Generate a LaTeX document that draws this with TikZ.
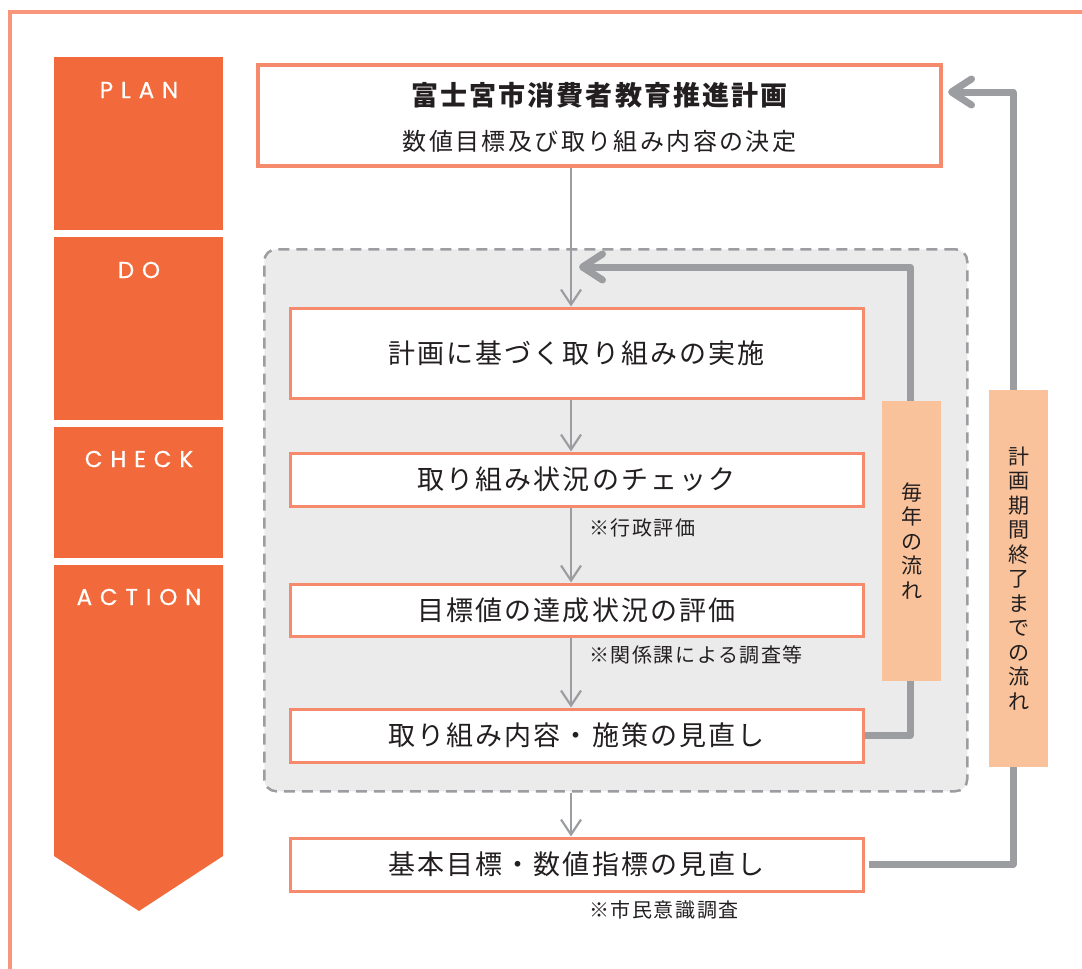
\documentclass[tikz,border=0pt]{standalone}
\usepackage{fontspec}
\newfontfamily\jp{Noto Sans CJK JP}
\newfontfamily\jpsp[LetterSpace=8]{Noto Sans CJK JP}
\newfontfamily\lat[LetterSpace=34,FakeBold=0.6]{Poppins}
\usetikzlibrary{arrows.meta}
\definecolor{framec}{HTML}{F7967B}
\definecolor{orng}{HTML}{F26A3B}
\definecolor{sal}{HTML}{F58B6C}
\definecolor{peach}{HTML}{FAC29A}
\definecolor{gline}{HTML}{9C9DA1}
\definecolor{gfill}{HTML}{EBEBEB}
\definecolor{txt}{HTML}{231F20}
\tikzset{
  phase/.style={fill=orng, minimum width=169pt, inner sep=0pt, anchor=north west},
  phaselbl/.style={text=white, inner sep=0pt, font=\lat\fontsize{23}{26}\selectfont},
  stepbox/.style={draw=sal, line width=3pt, fill=white, minimum width=573pt, inner sep=0pt, text=txt, font=\jpsp\fontsize{27}{30}\selectfont},
  note/.style={anchor=west, inner sep=0pt, text=txt, font=\jpsp\fontsize{20}{24}\selectfont},
  peachbox/.style={fill=peach, minimum width=59pt, inner sep=0pt, align=center, text=txt, font=\jp\fontsize{21}{24.5}\selectfont},
  tarrow/.style={draw=gline, line width=2.2pt, -{Straight Barb[length=15pt,width=20pt]}},
  karrow/.style={draw=gline, line width=7pt, line join=round, -{Straight Barb[length=20pt,width=26pt,round]}}
}
\begin{document}
\begin{tikzpicture}[x=1pt,y=-1pt]
\useasboundingbox (0,0) rectangle (1082,969);
% outer frame
\draw[framec, line width=3.5pt] (10,969) -- (10,12) -- (1082,12);
% phase column
\node[phase, minimum height=173pt] (plan) at (54,57) {};
\node[phase, minimum height=183pt] (do) at (54,237) {};
\node[phase, minimum height=131pt] (check) at (54,427) {};
\fill[orng] (54,565) -- (223,565) -- (223,856) -- (139,911) -- (54,856) -- cycle;
\node[phaselbl] (planl) at (139,90) {PLAN};
\node[phaselbl] (dol) at (139,270) {DO};
\node[phaselbl] (checkl) at (139,459) {CHECK};
\node[phaselbl] (actionl) at (139,597) {ACTION};
% dashed region
\node[draw=gline, dash pattern=on 11pt off 7pt, line width=2.5pt, fill=gfill, rounded corners=12pt,
      minimum width=703pt, minimum height=542pt, inner sep=0pt, anchor=north west] (region) at (263,248) {};
% top box
\node[stepbox, line width=3.5pt, minimum width=683pt, minimum height=101pt] (top) at (599.5,115.5) {};
\node[inner sep=0pt, text=txt, font=\jpsp\bfseries\fontsize{27}{30}\selectfont] (title) at (599.5,95) {富士宮市消費者教育推進計画};
\node[inner sep=0pt, text=txt, font=\jp\addfontfeature{LetterSpace=10}\fontsize{24}{28}\selectfont] (sub) at (599.5,141) {数値目標及び取り組み内容の決定};
% step boxes
\node[stepbox, minimum height=90pt] (b1) at (576.5,353) {計画に基づく取り組みの実施};
\node[stepbox, minimum height=53pt] (b2) at (576.5,479.5) {取り組み状況のチェック};
\node[stepbox, minimum height=52pt] (b3) at (576.5,610) {目標値の達成状況の評価};
\node[stepbox, minimum height=53pt] (b4) at (576.5,735.5) {取り組み内容・施策の見直し};
\node[stepbox, minimum height=53pt] (b5) at (576.5,864.5) {基本目標・数値指標の見直し};
% notes
\node[note] (n1) at (589,528) {※行政評価};
\node[note] (n2) at (589,655) {※関係課による調査等};
\node[note] (n3) at (589,910) {※市民意識調査};
% thin arrows
\coordinate (ax) at (571,0);
\draw[tarrow] (ax |- top.south) -- (ax |- b1.north);
\draw[tarrow] (ax |- b1.south) -- (ax |- b2.north);
\draw[tarrow] (ax |- b2.south) -- (ax |- b3.north);
\draw[tarrow] (ax |- b3.south) -- (ax |- b4.north);
\draw[tarrow] (ax |- region.south) -- (ax |- b5.north);
% thick loops
\coordinate (c1) at (910,267);
\coordinate (a1) at (579,267);
\draw[karrow] (b4.east) -| (c1) -- (a1);
\coordinate (c2) at (1013,92);
\coordinate (a2) at (948,92);
\draw[karrow] ([xshift=4pt]b5.east) -| (c2) -- (a2);
% peach labels
\node[peachbox, minimum height=280pt] (yl) at (911.5,541) {毎\\年\\の\\流\\れ};
\node[peachbox, minimum height=377pt] (pl) at (1018.5,578.5) {計\\画\\期\\間\\終\\了\\ま\\で\\の\\流\\れ};
\end{tikzpicture}
\end{document}
